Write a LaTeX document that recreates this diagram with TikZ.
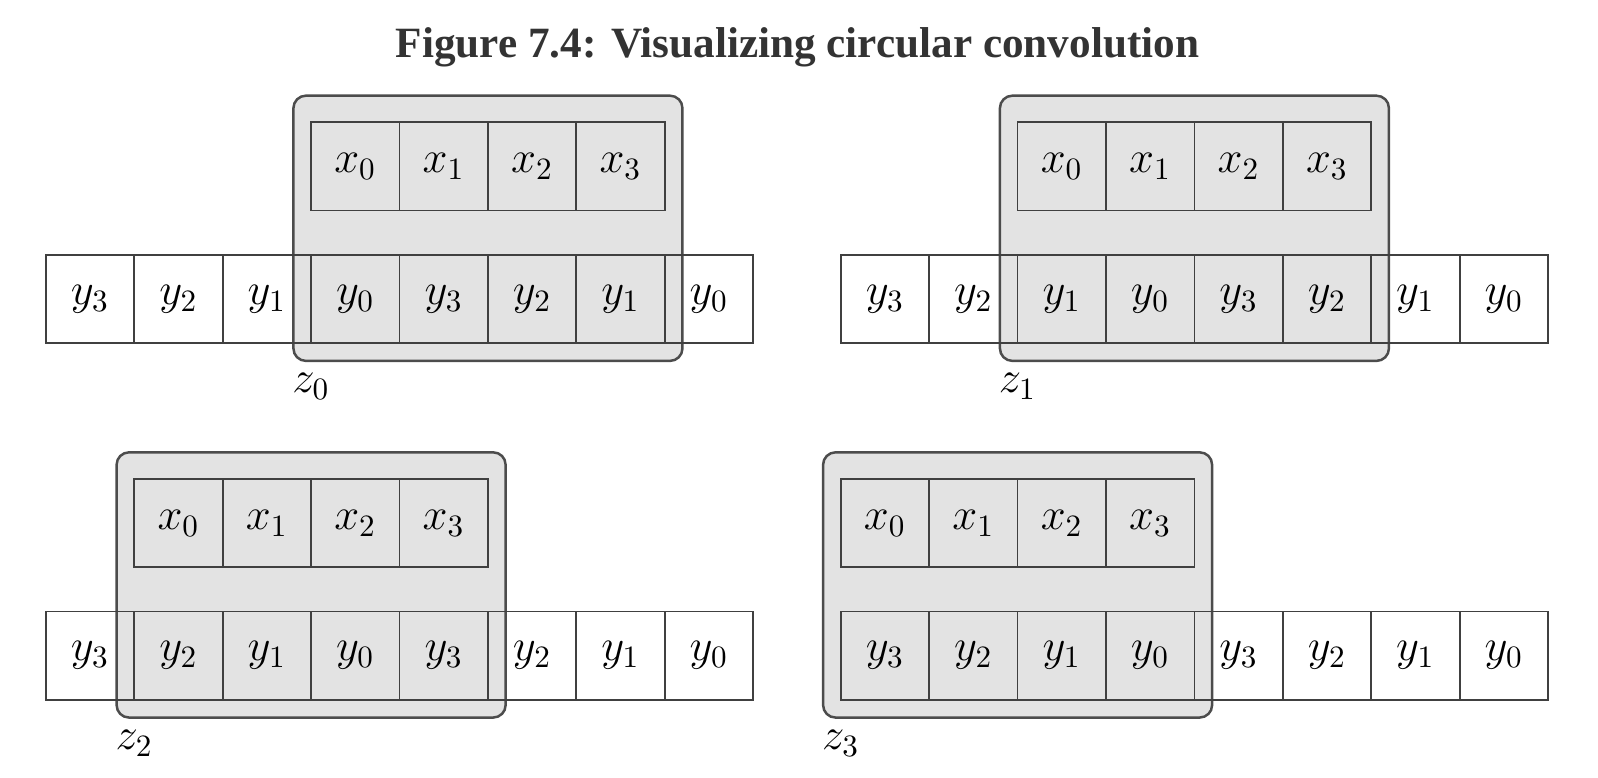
\documentclass[tikz,border=0pt]{standalone}
\usepackage{fontspec}
\newfontfamily\titelfont{Liberation Serif}
\begin{document}
\begin{tikzpicture}
\tikzset{
    zelle/.style={rectangle, draw=black!75, line width=0.55pt, minimum size=1cm,
                  inner sep=0pt, font=\fontsize{14}{16}\selectfont},
    fenster/.style={draw=black!70, line width=0.8pt, fill=black!11, rounded corners=4pt},
    marke/.style={font=\fontsize{14}{16}\selectfont}
}
\useasboundingbox (0,0) rectangle (18.075,-8.795);
\node[font=\titelfont\bfseries\fontsize{13.9}{16}\selectfont, text=black!80] (titel) at (9.02,-0.54)
    {Figure 7.4: Visualizing circular convolution};
% one panel per shift: panel, left/top of the y row, first cell under the window
\foreach \p/\ox/\oy/\k in {0/0.519/-2.882/3, 1/9.510/-2.882/2, 2/0.519/-6.916/1, 3/9.510/-6.916/0} {
    \pgfmathsetmacro{\wl}{\ox+\k}
    \draw[fenster] (\wl-0.2,\oy+1.8) rectangle (\wl+4.2,\oy-1.2);
    \foreach \i in {0,...,7} {
        \pgfmathtruncatemacro{\n}{3-mod(\i,4)}
        \node[zelle] (y\p-\i) at (\ox+\i+0.5,\oy-0.5) {$y_{\n}$};
    }
    \foreach \j in {0,...,3}
        \node[zelle] (x\p-\j) at (\wl+\j+0.5,\oy+1) {$x_{\j}$};
    \node[marke] (z\p) at (\wl,\oy-1.49) {$z_{\p}$};
}
\end{tikzpicture}
\end{document}
